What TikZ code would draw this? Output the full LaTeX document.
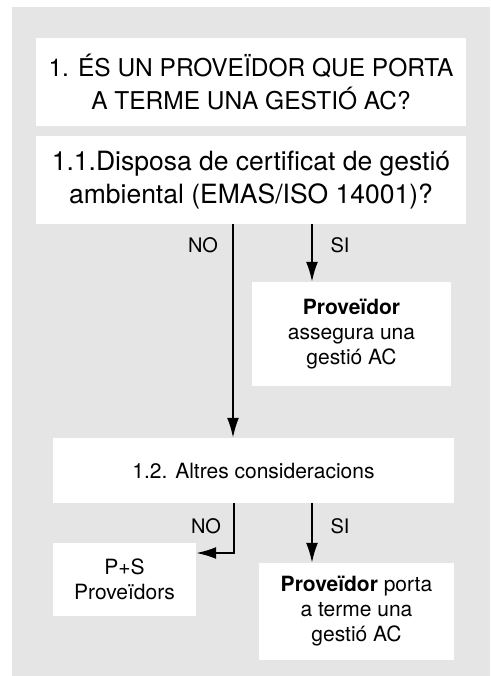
\documentclass[tikz,border=0pt]{standalone}
\usepackage{fontspec}
\setmainfont{TeX Gyre Heros}
\usetikzlibrary{arrows.meta,positioning}
\definecolor{cpanel}{HTML}{E5E5E5}
\tikzset{
  wbox/.style={fill=white, align=center, inner sep=0pt},
  qbox/.style={wbox, font=\fontsize{24.5}{33}\selectfont},
  abox/.style={wbox, font=\fontsize{21}{25}\selectfont},
  lbl/.style={font=\fontsize{20}{24}\selectfont, inner sep=0pt},
  flow/.style={-{Latex[length=20pt,width=12pt]}, line width=2pt},
}
\begin{document}
\begin{tikzpicture}[x=1pt, y=-1pt]
  \useasboundingbox (0,0) rectangle (490,676);
  \fill[cpanel] (12,7) rectangle (490,676);
  % questions
  \node[qbox, minimum width=430pt, minimum height=88pt] (q1) at (251,82)
    {1. ÉS UN PROVEÏDOR QUE PORTA\\A TERME UNA GESTIÓ AC?};
  \node[qbox, font=\fontsize{26.5}{33}\selectfont, minimum width=430pt,
        minimum height=88pt] (q11) at (251,180)
    {1.1.Disposa de certificat de gestió\\ambiental (EMAS/ISO 14001)?};
  \node[abox, minimum width=199pt, minimum height=104pt] (yes1) at (351.5,334)
    {\textbf{Proveïdor}\\assegura una\\gestió AC};
  \node[abox, minimum width=401pt, minimum height=65pt] (q12) at (253.5,470.5)
    {1.2. Altres consideracions};
  \node[abox, minimum width=143pt, minimum height=73pt] (ps) at (124.5,579.5)
    {P+S\\Proveïdors};
  \node[abox, minimum width=195pt, minimum height=97pt] (yes2) at (356.5,611.5)
    {\textbf{Proveïdor} porta\\a terme una\\gestió AC};
  % connectors
  \coordinate (n1) at (233,0);
  \coordinate (s1) at (312,0);
  \coordinate (n2) at (234,553);
  \draw[flow] (q11.south -| n1) -- (q12.north -| n1);
  \draw[flow] (q11.south -| s1) -- (yes1.north -| s1);
  \draw[flow] (q12.south -| n2) -- (n2) -- (n2 -| ps.east);
  \draw[flow] (q12.south -| s1) -- (yes2.north -| s1);
  % labels
  \node[lbl] (no1) at (203,245) {NO};
  \node[lbl] (si1) at (340,245) {SI};
  \node[lbl] (no2) at (206,526) {NO};
  \node[lbl] (si2) at (340,526) {SI};
\end{tikzpicture}
\end{document}
